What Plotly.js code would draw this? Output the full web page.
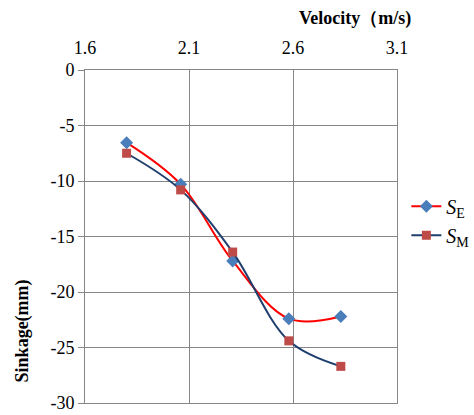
<!DOCTYPE html>
<html>
<head>
<meta charset="utf-8">
<script src="https://cdn.plot.ly/plotly-3.0.1.min.js"></script>
<style>
html,body{margin:0;padding:0;background:#fff;}
#chart{width:474px;height:415px;}
#chart svg text{font-family:'Liberation Serif' !important;}
#fontwarm{position:absolute;left:0;top:420px;font-family:'Liberation Serif';font-size:18px;}
#fontwarm b{font-weight:bold;}
</style>
</head>
<body>
<div id="chart"></div>
<div id="fontwarm">1.6 -25 <b>Velocity Sinkage</b> <i>S</i></div>
<script>
var velocity = [1.80, 2.06, 2.31, 2.58, 2.83];
var sinkageE = [-6.55, -10.3, -17.2, -22.4, -22.2];
var sinkageM = [-7.5, -10.8, -16.4, -24.4, -26.7];
var xTicks = [1.6, 2.1, 2.6, 3.1];
var yTicks = [0, -5, -10, -15, -20, -25, -30];

var font = 'Liberation Serif';

var traces = [
  {
    x: velocity, y: sinkageE, name: '<i>S</i><sub>E</sub>',
    mode: 'lines+markers',
    line: {color: '#FF0000', width: 2, shape: 'spline', smoothing: 1},
    marker: {symbol: 'diamond', size: 10, color: '#4A7EBB'}
  },
  {
    x: velocity, y: sinkageM, name: '<i>S</i><sub>M</sub>',
    mode: 'lines+markers',
    line: {color: '#1F3F6E', width: 2, shape: 'spline', smoothing: 1},
    marker: {symbol: 'square', size: 9, color: '#BE4B48'}
  }
];

var layout = {
  width: 474, height: 415,
  margin: {l: 85, r: 77, t: 70, b: 12, autoexpand: false},
  paper_bgcolor: '#fff', plot_bgcolor: '#fff',
  font: {family: font, size: 18, color: '#000'},
  showlegend: true,
  legend: {x: 1.03, y: 0.547, xanchor: 'left', yanchor: 'middle', font: {family: font, size: 20, color: '#000'}, tracegroupgap: 0, itemwidth: 30, bgcolor: 'rgba(0,0,0,0)'},
  xaxis: {
    side: 'top', range: [1.6, 3.1], tickvals: xTicks, ticktext: xTicks.map(function(v){return v.toFixed(1);}),
    showgrid: true, gridcolor: '#868686', gridwidth: 1,
    showline: true, linecolor: '#868686', linewidth: 1, mirror: true,
    ticks: '', zeroline: false, tickfont: {family: font, size: 18, color: '#000'}, ticklabelstandoff: 8
  },
  yaxis: {
    range: [-30, 0], tickvals: yTicks, ticktext: yTicks.map(String),
    showgrid: true, gridcolor: '#868686', gridwidth: 1,
    showline: true, linecolor: '#868686', linewidth: 1, mirror: true,
    ticks: 'outside', ticklen: 6, tickcolor: '#868686', zeroline: false,
    tickfont: {family: font, size: 18, color: '#000'}
  },
  annotations: [
    {text: '<b>Velocity（m/s)</b>', xref: 'paper', yref: 'paper', x: 1.05, y: 1, yshift: 52, xanchor: 'right', yanchor: 'middle', showarrow: false, font: {family: font, size: 18, color: '#000'}},
    {text: '<b>Sinkage(mm)</b>', xref: 'paper', yref: 'paper', x: 0, xshift: -63, y: 0.215, textangle: -90, xanchor: 'center', yanchor: 'middle', showarrow: false, font: {family: font, size: 18, color: '#000'}}
  ]
};

Plotly.newPlot('chart', traces, layout, {displayModeBar: false, staticPlot: true});
</script>
</body>
</html>
